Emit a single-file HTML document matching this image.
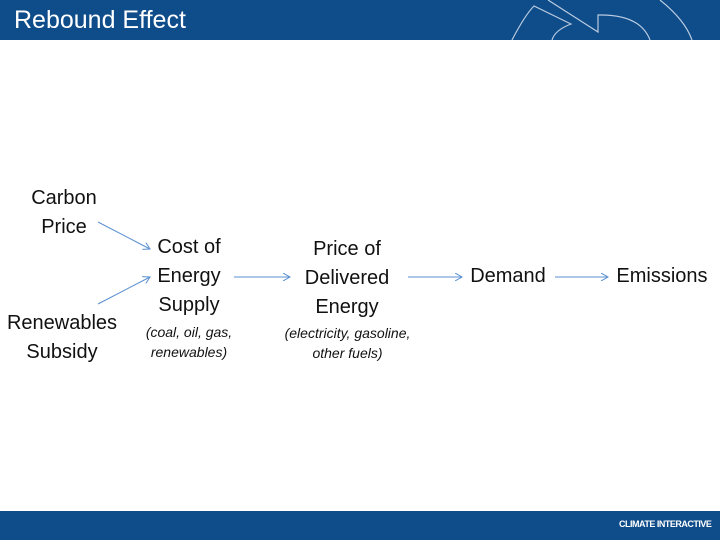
<!DOCTYPE html>
<html><head><style>
body{margin:0;width:720px;height:540px;position:relative;background:#fff;font-family:"Liberation Sans",sans-serif;overflow:hidden}
.hdr{position:absolute;left:0;top:0;width:720px;height:40px;background:#0f4c8a}
.ftr{position:absolute;left:0;top:511px;width:720px;height:29px;background:#0f4c8a}
.t{position:absolute;color:#111;font-size:20px;text-align:center;line-height:29px;white-space:nowrap}
.s{font-size:14px;font-style:italic;line-height:20px}
</style></head><body>
<div class="hdr"></div>
<div style="position:absolute;left:14px;top:4px;color:#fff;font-size:25px;line-height:32px">Rebound Effect</div>
<svg style="position:absolute;left:0;top:0" width="720" height="40">
<g fill="none" stroke="#b8cbe0" stroke-width="1.2">
<path d="M512,40 Q525,15 534,6 L571,24 Q555,30 552,40"/>
<path d="M548,0 L598,32 L598,15 Q640,14 650,40"/>
<path d="M660,0 Q685,20 692,40"/>
</g></svg>
<div class="ftr"></div>
<div style="position:absolute;left:619px;top:519px;color:#fff;font-size:9px;font-weight:bold;letter-spacing:-0.5px;white-space:nowrap">CLIMATE INTERACTIVE</div>

<div class="t" style="left:14px;top:184px;width:100px">Carbon<br>Price</div>
<div class="t" style="left:0px;top:309px;width:124px">Renewables<br>Subsidy</div>
<div class="t" style="left:139px;top:233px;width:100px">Cost of<br>Energy<br>Supply</div>
<div class="t s" style="left:134px;top:322px;width:110px">(coal, oil, gas,<br>renewables)</div>
<div class="t" style="left:292px;top:235px;width:110px">Price of<br>Delivered<br>Energy</div>
<div class="t s" style="left:270px;top:323px;width:155px">(electricity, gasoline,<br>other fuels)</div>
<div class="t" style="left:460px;top:262px;width:96px">Demand</div>
<div class="t" style="left:610px;top:262px;width:104px">Emissions</div>

<svg style="position:absolute;left:0;top:0" width="720" height="540">
<defs><marker id="a" markerWidth="8" markerHeight="8" refX="7" refY="4" orient="auto" markerUnits="userSpaceOnUse"><path d="M0,0 L7,4 L0,8" fill="none" stroke="#5b8fd0" stroke-width="1"/></marker></defs>
<g stroke="#5b8fd0" stroke-width="1" marker-end="url(#a)">
<line x1="98" y1="222" x2="150" y2="249"/>
<line x1="98" y1="304" x2="150" y2="277"/>
<line x1="234" y1="277" x2="290" y2="277"/>
<line x1="408" y1="277" x2="462" y2="277"/>
<line x1="555" y1="277" x2="608" y2="277"/>
</g></svg>
</body></html>
